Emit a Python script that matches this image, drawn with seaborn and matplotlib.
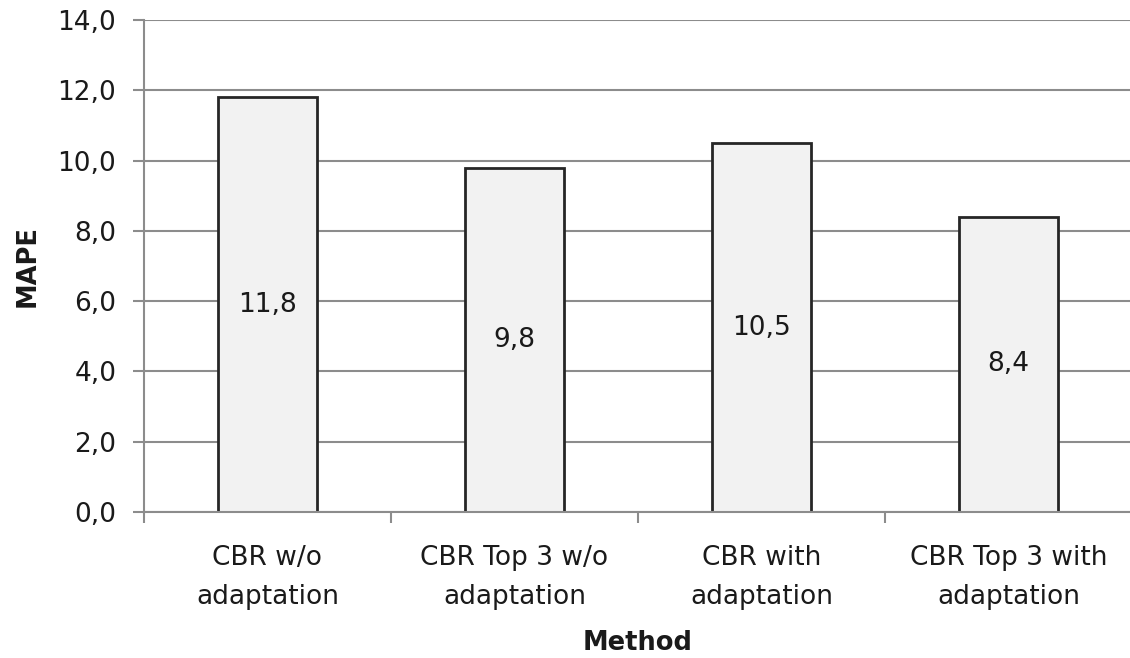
import matplotlib
matplotlib.use("Agg")
import matplotlib.pyplot as plt
from matplotlib.ticker import FixedLocator, FuncFormatter
import seaborn as sns
import pandas as pd

methods = ["CBR w/o\nadaptation", "CBR Top 3 w/o\nadaptation",
           "CBR with\nadaptation", "CBR Top 3 with\nadaptation"]
mape = [11.8, 9.8, 10.5, 8.4]
y_ticks = [0, 2, 4, 6, 8, 10, 12, 14]

df = pd.DataFrame({"Method": methods, "MAPE": mape})

sns.set_theme(style="white")
plt.rcParams["font.family"] = ["DejaVu Sans"]

text_col = "#1a1a1a"
grid_col = "#8c8c8c"
fs = 19

fig = plt.figure(figsize=(11.3, 6.58), dpi=100)
ax = fig.add_axes([144 / 1130, 146 / 658, 988 / 1130, 492 / 658])

sns.barplot(data=df, x="Method", y="MAPE", ax=ax, width=0.4,
            color="#f2f2f2", edgecolor="#262626", linewidth=2, saturation=1,
            zorder=3)

ax.set_xlim(-0.5, len(methods) - 0.5)
ax.set_ylim(0, 14)
ax.yaxis.set_major_locator(FixedLocator(y_ticks))
ax.yaxis.set_major_formatter(FuncFormatter(lambda v, p: f"{v:.1f}".replace(".", ",")))
ax.grid(axis="y", color=grid_col, linewidth=1.5, zorder=0)
ax.grid(axis="x", visible=False)

# category boundary ticks on the x axis
ax.xaxis.set_minor_locator(FixedLocator([i - 0.5 for i in range(len(methods) + 1)]))
ax.tick_params(axis="x", which="major", length=0, pad=24, labelsize=fs, labelcolor=text_col)
ax.tick_params(axis="x", which="minor", length=8, width=1.5, color=grid_col, direction="out")
ax.tick_params(axis="y", which="major", length=8, width=1.5, color=grid_col, direction="out",
               pad=12, labelsize=fs, labelcolor=text_col)
ax.tick_params(axis="x", bottom=True, which="both")
ax.tick_params(axis="y", left=True)
for lbl in ax.get_xticklabels():
    lbl.set_linespacing(1.65)

for side in ("top", "right"):
    ax.spines[side].set_visible(False)
for side in ("left", "bottom"):
    ax.spines[side].set_color(grid_col)
    ax.spines[side].set_linewidth(1.5)
    ax.spines[side].set_zorder(4)

ax.bar_label(ax.containers[0], labels=[f"{v:.1f}".replace(".", ",") for v in mape],
             label_type="center", fontsize=fs, color=text_col)

ax.set_xlabel("Method", fontsize=18.5, fontweight="bold", color=text_col, labelpad=14)
ax.set_ylabel("MAPE", fontsize=18.5, fontweight="bold", color=text_col, labelpad=12)

fig.savefig("out.png", dpi=100)
